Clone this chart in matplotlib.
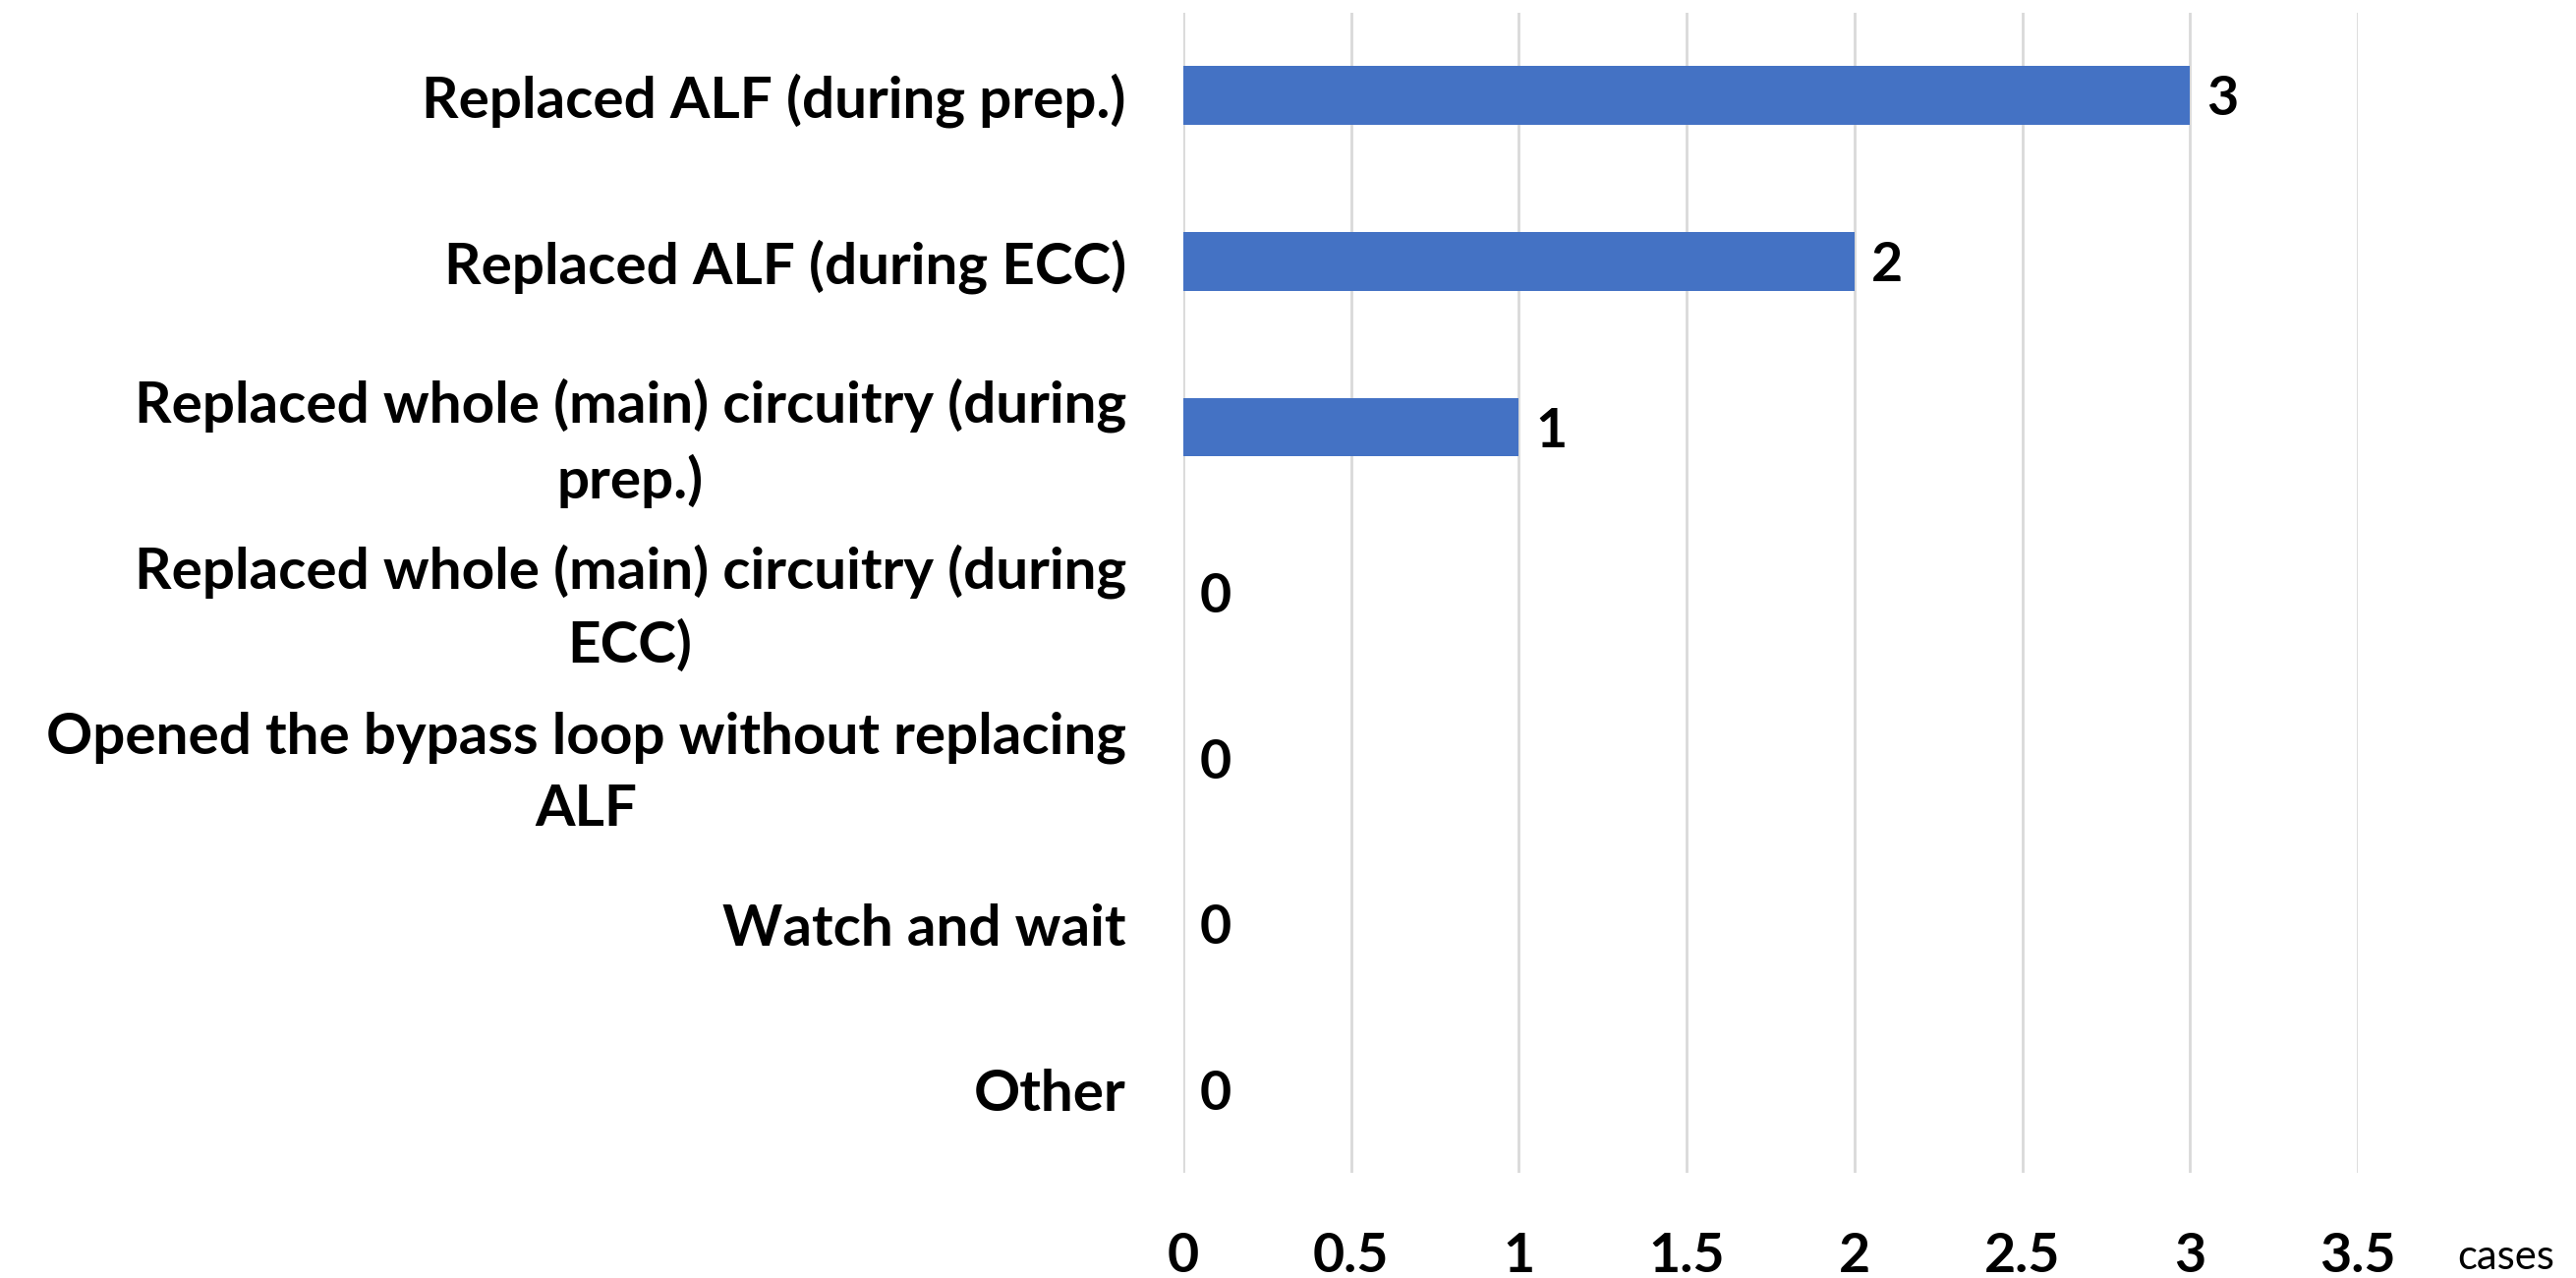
import matplotlib
matplotlib.use("Agg")
import matplotlib.pyplot as plt

categories = [
    "Replaced ALF (during prep.)",
    "Replaced ALF (during ECC)",
    "Replaced whole (main) circuitry (during\nprep.)",
    "Replaced whole (main) circuitry (during\nECC)",
    "Opened the bypass loop without replacing\nALF",
    "Watch and wait",
    "Other",
]
values = [3, 2, 1, 0, 0, 0, 0]
xticks = [0, 0.5, 1, 1.5, 2, 2.5, 3, 3.5]
xtick_labels = ["0", "0.5", "1", "1.5", "2", "2.5", "3", "3.5"]
unit_label = "cases"

FONT = "Lato"
BAR_COLOR = "#4472C4"
GRID_COLOR = "#D9D9D9"

fig = plt.figure(figsize=(26.21, 13.0), dpi=100)
ax = fig.add_axes([0.4594, 0.0823, 0.9153 - 0.4594, 0.990 - 0.0823])

ypos = list(range(len(categories)))
ax.barh(ypos, values, height=0.355, color=BAR_COLOR, zorder=3)
ax.set_ylim(len(categories) - 0.5, -0.5)
ax.set_xlim(0, 3.5)

ax.set_xticks(xticks)
ax.set_xticklabels(xtick_labels, fontsize=40, fontweight="bold", family=FONT)
ax.set_yticks(ypos)
ax.set_yticklabels(categories, fontsize=42, fontweight="bold", family=FONT,
                   ha="right", multialignment="center", linespacing=1.48)
ax.tick_params(axis="y", length=0, pad=42)
ax.tick_params(axis="x", length=0, pad=43)

ax.grid(axis="x", color=GRID_COLOR, linewidth=2, zorder=0)
for s in ax.spines.values():
    s.set_visible(False)

for y, v in zip(ypos, values):
    ax.annotate(str(v), (v, y), xytext=(12, -3), textcoords="offset points",
                ha="left", va="center", fontsize=40, fontweight="bold",
                family=FONT, zorder=4)

fig.text(0.954, 0.016, unit_label, fontsize=30, family=FONT,
         ha="left", va="center")

fig.savefig("out.png", dpi=100, facecolor="white")
